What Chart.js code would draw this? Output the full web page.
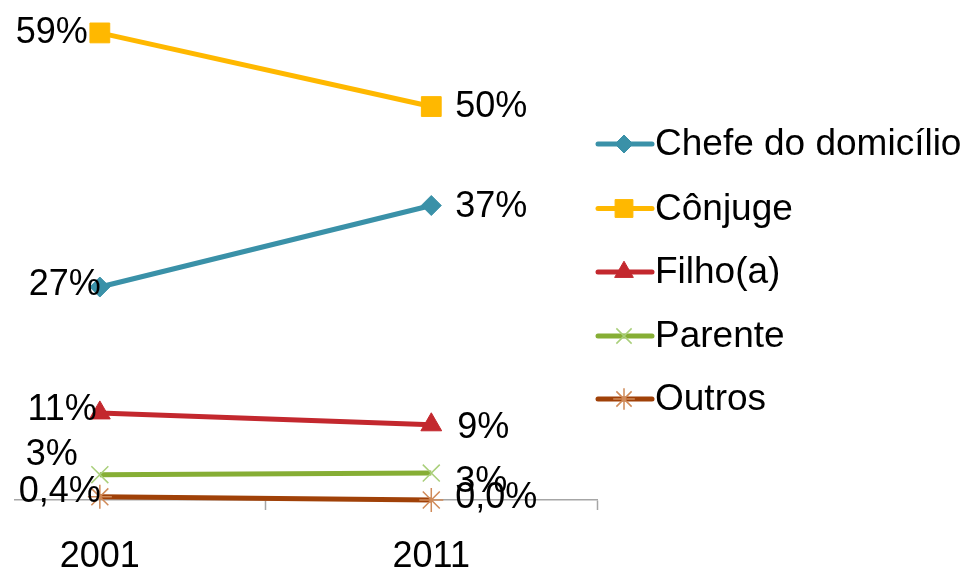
<!DOCTYPE html>
<html>
<head>
<meta charset="utf-8">
<script src="https://cdn.jsdelivr.net/npm/chart.js@4.4.0/dist/chart.umd.min.js"></script>
<style>
  html, body { margin: 0; padding: 0; background: #fff; }
  #wrap { width: 962px; height: 567px; }
</style>
</head>
<body>
<div id="wrap"><canvas id="perfilChart" width="962" height="567"></canvas></div>
<script>
const years = ['2001', '2011'];
const seriesNames = ['Chefe do domicílio', 'Cônjuge', 'Filho(a)', 'Parente', 'Outros'];

const chefeValues = [26.9, 37.2];
const conjugeValues = [59.0, 49.7];
const filhoValues = [11.0, 9.5];
const parenteValues = [3.2, 3.4];
const outrosValues = [0.4, 0.0];

const chefeLabels = ['27%', '37%'];
const conjugeLabels = ['59%', '50%'];
const filhoLabels = ['11%', '9%'];
const parenteLabels = ['3%', '3%'];
const outrosLabels = ['0,4%', '0,0%'];

const FONT = '"Liberation Sans", Arial, sans-serif';

function pts(values) {
  return values.map((v, i) => ({x: i, y: v}));
}

// data labels: index 0 sits left of the point, index 1 right of it
const dataLabels = {
  id: 'dataLabels',
  afterDatasetsDraw(chart) {
    const ctx = chart.ctx;
    ctx.save();
    ctx.font = '36px ' + FONT;
    ctx.fillStyle = '#000';
    ctx.textBaseline = 'middle';
    chart.data.datasets.forEach((ds, di) => {
      chart.getDatasetMeta(di).data.forEach((p, i) => {
        const off = ds.labelOffsets[i];
        ctx.textAlign = i === 0 ? 'right' : 'left';
        ctx.fillText(ds.valueLabels[i], p.x + off[0], p.y + off[1]);
      });
    });
    ctx.restore();
  }
};

// legend with line + marker, like the spreadsheet one
const lineLegend = {
  id: 'lineLegend',
  afterDraw(chart) {
    const ctx = chart.ctx;
    const x0 = 598, x1 = 652, mx = 624;
    const ys = [144, 208.5, 272, 336, 399];
    ctx.save();
    chart.data.datasets.forEach((ds, i) => {
      const y = ys[i];
      ctx.strokeStyle = ds.borderColor;
      ctx.lineWidth = 5;
      ctx.lineCap = 'round';
      ctx.beginPath();
      ctx.moveTo(x0, y);
      ctx.lineTo(x1, y);
      ctx.stroke();
      ctx.fillStyle = ds.pointBackgroundColor;
      ctx.strokeStyle = ds.pointBorderColor;
      ctx.lineCap = 'butt';
      ctx.lineWidth = ds.pointBorderWidth;
      Chart.helpers.drawPoint(ctx, {
        pointStyle: ds.pointStyle,
        radius: ds.pointRadius * 0.9,
        borderWidth: ds.pointBorderWidth,
        rotation: 0
      }, mx, y);
      ctx.font = '37px ' + FONT;
      ctx.fillStyle = '#000';
      ctx.textAlign = 'left';
      ctx.textBaseline = 'middle';
      ctx.fillText(ds.label, 655, y + 1);
    });
    ctx.restore();
  }
};

new Chart(document.getElementById('perfilChart'), {
  type: 'line',
  data: {
    datasets: [
      {
        label: seriesNames[0],
        data: pts(chefeValues),
        valueLabels: chefeLabels,
        labelOffsets: [[1, -2], [24, 2]],
        borderColor: '#3A91A8',
        pointBackgroundColor: '#3A91A8',
        pointBorderColor: '#3A91A8',
        pointStyle: 'rectRot',
        pointRadius: 10,
        pointBorderWidth: 1
      },
      {
        label: seriesNames[1],
        data: pts(conjugeValues),
        valueLabels: conjugeLabels,
        labelOffsets: [[-12, 0], [24, 1]],
        borderColor: '#FFB800',
        pointBackgroundColor: '#FFB800',
        pointBorderColor: '#FFB800',
        pointStyle: 'rect',
        pointRadius: 14,
        pointBorderWidth: 1
      },
      {
        label: seriesNames[2],
        data: pts(filhoValues),
        valueLabels: filhoLabels,
        labelOffsets: [[-3, -3], [26, 3]],
        borderColor: '#C3282E',
        pointBackgroundColor: '#C3282E',
        pointBorderColor: '#C3282E',
        pointStyle: 'triangle',
        pointRadius: 12,
        pointBorderWidth: 1
      },
      {
        label: seriesNames[3],
        data: pts(parenteValues),
        valueLabels: parenteLabels,
        labelOffsets: [[-22, -20], [24, 9]],
        borderColor: '#86AE35',
        pointBackgroundColor: '#86AE35',
        pointBorderColor: '#A9CF7A',
        pointStyle: 'crossRot',
        pointRadius: 12,
        pointBorderWidth: 1.5
      },
      {
        label: seriesNames[4],
        data: pts(outrosValues),
        valueLabels: outrosLabels,
        labelOffsets: [[1, -5], [24, -2]],
        borderColor: '#A04108',
        pointBackgroundColor: '#A04108',
        pointBorderColor: '#D08A58',
        pointStyle: 'star',
        pointRadius: 12,
        pointBorderWidth: 1.5
      }
    ]
  },
  options: {
    responsive: false,
    animation: false,
    devicePixelRatio: 1,
    layout: {
      padding: {left: 10, right: 365, top: 25, bottom: 0}
    },
    elements: {
      line: {borderWidth: 5, tension: 0, fill: false},
      point: {hoverRadius: 10}
    },
    datasets: {
      line: {clip: false}
    },
    plugins: {
      legend: {display: false},
      tooltip: {enabled: false}
    },
    scales: {
      x: {
        type: 'linear',
        min: -0.256,
        max: 1.5,
        afterBuildTicks: s => {
          s.ticks = [0, 0.5, 1, 1.5].map(v => ({value: v}));
        },
        afterFit: s => {
          s.height = 67;
          s.paddingLeft = 0;
          s.paddingRight = 0;
        },
        border: {display: true, color: '#A6A6A6', width: 1.5},
        grid: {
          drawOnChartArea: false,
          drawTicks: true,
          tickLength: 10,
          tickWidth: 1.5,
          tickColor: c => (c.tick && c.tick.value % 1 !== 0) ? '#A6A6A6' : 'rgba(0,0,0,0)'
        },
        ticks: {
          autoSkip: false,
          maxRotation: 0,
          padding: 25,
          color: '#000',
          font: {family: FONT, size: 36},
          callback: v => (v % 1 === 0 ? years[v] : '')
        }
      },
      y: {
        display: false,
        min: 0,
        max: 60
      }
    }
  },
  plugins: [dataLabels, lineLegend]
});
</script>
</body>
</html>
